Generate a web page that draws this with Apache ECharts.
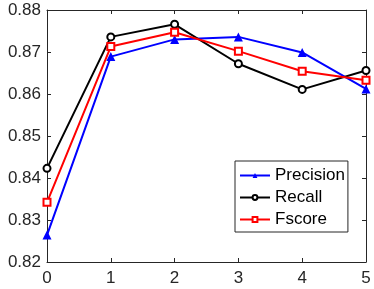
<!DOCTYPE html>
<html><head><meta charset="utf-8">
<script src="https://cdn.jsdelivr.net/npm/echarts@6/dist/echarts.min.js"></script>
<style>html,body{margin:0;padding:0;background:#fff}#c{width:374px;height:289px}</style>
</head><body><div id="c"></div>
<script>
const xValues = [0, 1, 2, 3, 4, 5];
const precision = [0.8264, 0.8689, 0.8730, 0.8736, 0.8699, 0.8612];
const recall = [0.8423, 0.8736, 0.8766, 0.8672, 0.8611, 0.8656];
const fscore = [0.8342, 0.8713, 0.8747, 0.8702, 0.8654, 0.8633];
const yTicks = ['0.82','0.83','0.84','0.85','0.86','0.87','0.88'];

const axisColor = '#262626';
const font = 'Liberation Sans, Arial, sans-serif';
function pts(v){ return xValues.map((x,i)=>[x, v[i]]); }
const chart = echarts.init(document.getElementById('c'), null, {renderer:'canvas'});
const baseAxis = {
  axisLine:{show:true, onZero:false, lineStyle:{color:axisColor, width:1}},
  axisTick:{show:true, inside:true, length:4, lineStyle:{color:axisColor}},
  splitLine:{show:false}
};
chart.setOption({
  animation:false,
  backgroundColor:'#fff',
  grid:{left:47, right:8, top:10, bottom:27, containLabel:false},
  xAxis:[
    Object.assign({type:'value', min:0, max:5, interval:1, position:'bottom',
      axisLabel:{color:axisColor, fontSize:17, fontFamily:font, margin:8}}, baseAxis),
    Object.assign({type:'value', min:0, max:5, interval:1, position:'top',
      axisLabel:{show:false}}, baseAxis)
  ],
  yAxis:[
    Object.assign({type:'value', min:0.82, max:0.88, interval:0.01, position:'left',
      axisLabel:{color:axisColor, fontSize:17, fontFamily:font, margin:6,
        formatter:(v)=>yTicks[Math.round((v-0.82)/0.01)]}}, baseAxis),
    Object.assign({type:'value', min:0.82, max:0.88, interval:0.01, position:'right',
      axisLabel:{show:false}}, baseAxis)
  ],
  legend:{
    orient:'vertical', left:235, top:161,
    backgroundColor:'#fff', borderColor:axisColor, borderWidth:1,
    padding:[6,3,4,4], itemGap:5, itemWidth:30, itemHeight:6, itemTextGap:1,
    textStyle:{color:'#000', fontSize:17, fontFamily:font, lineHeight:17},
    data:['Precision','Recall','Fscore']
  },
  series:[
    {name:'Precision', type:'line', data:pts(precision), symbol:'triangle', symbolSize:9,
      lineStyle:{color:'#0000ff', width:2}, itemStyle:{color:'#0000ff'}},
    {name:'Recall', type:'line', data:pts(recall), symbol:'emptyCircle', symbolSize:7,
      lineStyle:{color:'#000', width:2}, itemStyle:{color:'#000', borderWidth:1.5}},
    {name:'Fscore', type:'line', data:pts(fscore), symbol:'emptyRect', symbolSize:7,
      lineStyle:{color:'#ff0000', width:2}, itemStyle:{color:'#ff0000', borderWidth:1.5}}
  ]
});
</script></body></html>
